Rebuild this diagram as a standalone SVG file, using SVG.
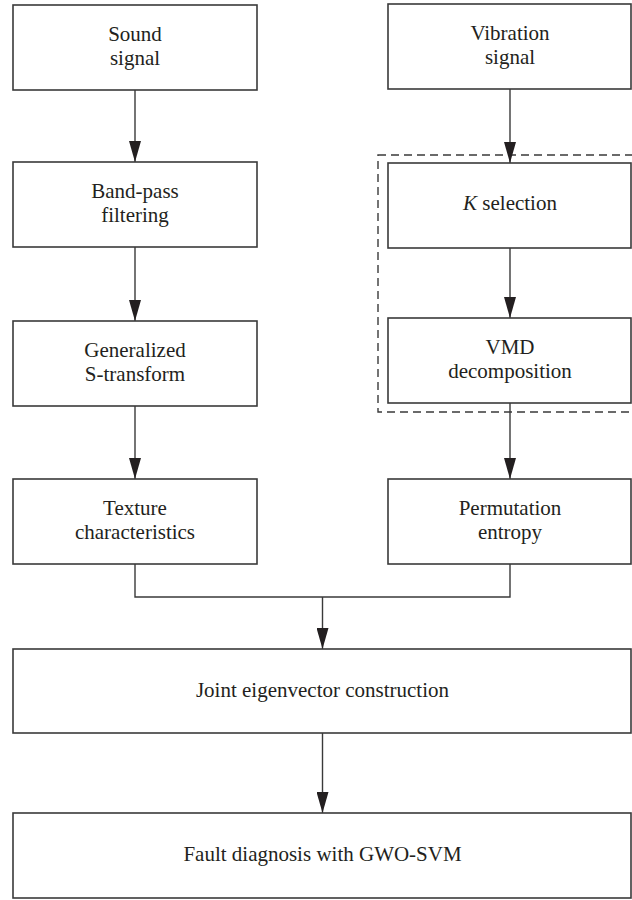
<svg xmlns="http://www.w3.org/2000/svg" width="632" height="900" viewBox="0 0 632 900">
<style>
.box{fill:#fff;stroke:#3a3a3a;stroke-width:1.6}
.lbl{font-family:"Liberation Serif","Times New Roman",serif;font-size:21px;fill:#231f20;text-anchor:middle}
.con{fill:none;stroke:#3a3a3a;stroke-width:1.4}
.dash{fill:none;stroke:#3a3a3a;stroke-width:1.4;stroke-dasharray:8 5}
</style>
<defs>
<marker id="ah" markerUnits="userSpaceOnUse" markerWidth="12" markerHeight="22" viewBox="0 0 12 22" refX="6" refY="21" orient="auto-start-reverse">
<path d="M0,0 L12,0 L6,21 Z" fill="#231f20" transform="rotate(0)"/>
</marker>
<marker id="av" markerUnits="userSpaceOnUse" markerWidth="22" markerHeight="12" viewBox="0 0 22 12" refX="21" refY="6" orient="auto">
<path d="M0,0 L21,6 L0,12 Z" fill="#231f20"/>
</marker>
</defs>
<rect class="dash" x="378" y="155" width="270" height="257"/>
<g id="connectors">
<line class="con" x1="135" y1="90" x2="135" y2="162" marker-end="url(#av)"/>
<line class="con" x1="135" y1="247" x2="135" y2="321" marker-end="url(#av)"/>
<line class="con" x1="135" y1="406" x2="135" y2="479" marker-end="url(#av)"/>
<line class="con" x1="510" y1="89" x2="510" y2="163" marker-end="url(#av)"/>
<line class="con" x1="510" y1="248" x2="510" y2="318" marker-end="url(#av)"/>
<line class="con" x1="510" y1="403" x2="510" y2="479" marker-end="url(#av)"/>
<polyline class="con" points="135,564 135,597 510,597 510,564"/>
<line class="con" x1="322.5" y1="597" x2="322.5" y2="649" marker-end="url(#av)"/>
<line class="con" x1="322.5" y1="733" x2="322.5" y2="813" marker-end="url(#av)"/>
</g>
<g id="sound"><rect class="box" x="13" y="5" width="244" height="85"/>
<text class="lbl" x="135" y="41">Sound</text><text class="lbl" x="135" y="65">signal</text></g>
<g id="bandpass"><rect class="box" x="13" y="162" width="244" height="85"/>
<text class="lbl" x="135" y="198">Band-pass</text><text class="lbl" x="135" y="222">filtering</text></g>
<g id="gst"><rect class="box" x="13" y="321" width="244" height="85"/>
<text class="lbl" x="135" y="357">Generalized</text><text class="lbl" x="135" y="381">S-transform</text></g>
<g id="texture"><rect class="box" x="13" y="479" width="244" height="85"/>
<text class="lbl" x="135" y="515">Texture</text><text class="lbl" x="135" y="539">characteristics</text></g>
<g id="vibration"><rect class="box" x="388" y="4" width="243" height="85"/>
<text class="lbl" x="510" y="40">Vibration</text><text class="lbl" x="510" y="64">signal</text></g>
<g id="kselection"><rect class="box" x="388" y="163" width="243" height="85"/>
<text class="lbl" x="510" y="210"><tspan font-style="italic">K</tspan> selection</text></g>
<g id="vmd"><rect class="box" x="388" y="318" width="243" height="85"/>
<text class="lbl" x="510" y="354">VMD</text><text class="lbl" x="510" y="378">decomposition</text></g>
<g id="permutation"><rect class="box" x="388" y="479" width="243" height="85"/>
<text class="lbl" x="510" y="515">Permutation</text><text class="lbl" x="510" y="539">entropy</text></g>
<g id="joint"><rect class="box" x="13" y="649" width="618" height="84"/>
<text class="lbl" x="322.5" y="697">Joint eigenvector construction</text></g>
<g id="fault"><rect class="box" x="13" y="813" width="618" height="85"/>
<text class="lbl" x="322.5" y="861">Fault diagnosis with GWO-SVM</text></g>
</svg>
